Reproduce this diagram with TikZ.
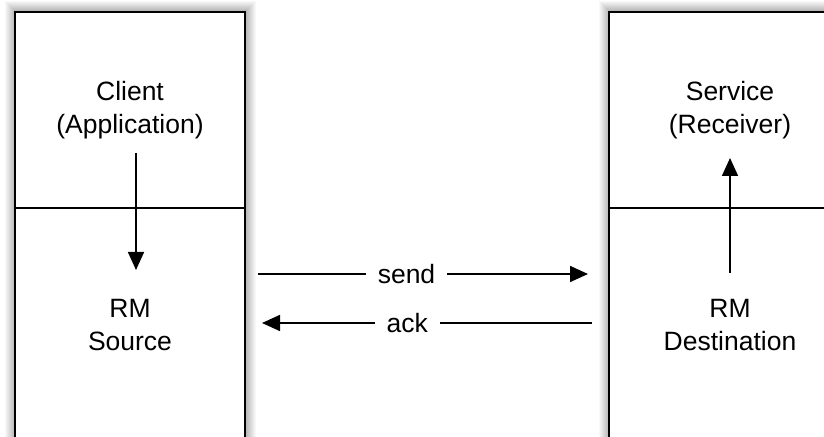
\documentclass[tikz,border=0pt]{standalone}
\usepackage{fontspec}
\setmainfont{Liberation Sans}
\usetikzlibrary{arrows.meta,positioning,backgrounds}

\begin{document}
\begin{tikzpicture}[x=0.5pt,y=-0.5pt,
  part/.style={draw=black,line width=1pt,fill=white,
    inner sep=0pt,outer sep=0pt,align=center,
    font=\fontsize{13.25}{16.5}\selectfont},
  flow/.style={line width=0.8pt,-{Triangle[length=9pt,width=8pt]}},
  tag/.style={fill=white,inner xsep=6pt,inner ysep=1pt,
    font=\fontsize{13.25}{16}\selectfont}]
\useasboundingbox (0,0) rectangle (824,437);

% sender side
\node[part,minimum width=115pt,minimum height=98pt] (client) at (130,110) {Client\\(Application)};
\node[part,minimum width=115pt,minimum height=117pt,below=0pt of client] (source) {RM\\Source};

% receiver side
\node[part,minimum width=121pt,minimum height=98pt] (service) at (730,110) {Service\\(Receiver)};
\node[part,minimum width=121pt,minimum height=117pt,below=0pt of service] (dest) {RM\\Destination};

% soft shadow round both stacks, one faint ring per pixel
\begin{scope}[on background layer]
\foreach \d in {1,...,10} {
  \pgfmathsetmacro\op{0.3*(1-\d/11)}
  \draw[black,line width=0.5pt,opacity=\op]
    ([shift={(-\d,-\d)}]client.north west) rectangle ([shift={(\d,\d)}]source.south east);
  \draw[black,line width=0.5pt,opacity=\op]
    ([shift={(-\d,-\d)}]service.north west) rectangle ([shift={(\d,\d)}]dest.south east);
}
\end{scope}

% inside each stack
\draw[flow] ([xshift=3pt,yshift=-21.5pt]client.center) -- ([xshift=3pt,yshift=-31pt]source.north);
\draw[flow] ([yshift=-32.5pt]dest.north) -- ([yshift=-24pt]service.center);

% between the two sides
\draw[flow] ([xshift=6.5pt,yshift=25.5pt]source.east) -- node[tag,pos=0.45] {send} ([xshift=-10.5pt,yshift=25.5pt]dest.west);
\draw[flow] ([xshift=-8.5pt,yshift=1pt]dest.west) -- node[tag,pos=0.56] {ack} ([xshift=8.5pt,yshift=1pt]source.east);
\end{tikzpicture}
\end{document}
